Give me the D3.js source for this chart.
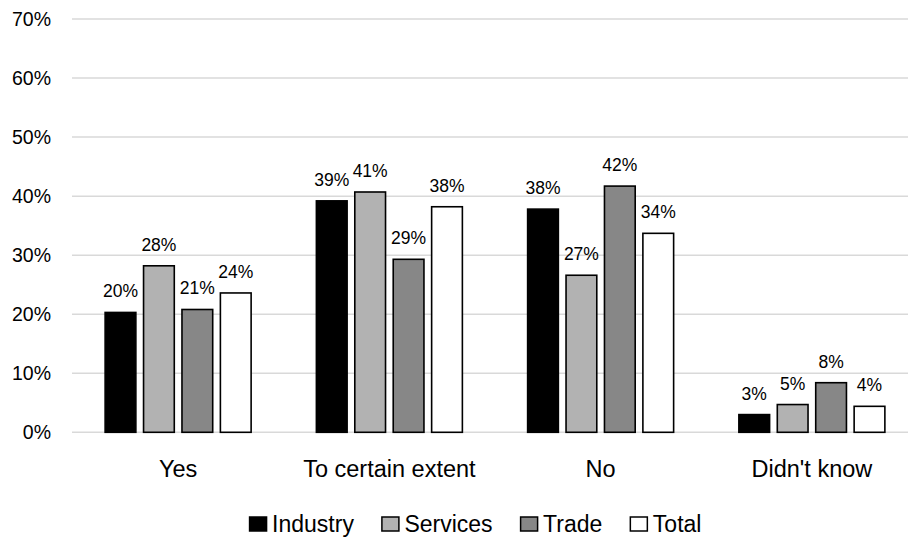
<!DOCTYPE html>
<html>
<head>
<meta charset="utf-8">
<script src="https://cdn.jsdelivr.net/npm/d3@7"></script>
<style>
  html, body { margin: 0; padding: 0; background: #fff; }
  svg { display: block; }
  text { font-family: "Liberation Sans", Arial, sans-serif; fill: #000; }
</style>
</head>
<body>
<svg id="chart" width="908" height="542"></svg>
<script>
const categories = ["Yes", "To certain extent", "No", "Didn't know"];
const seriesNames = ["Industry", "Services", "Trade", "Total"];
const industry = [20.3, 39.2, 37.8, 3.0];
const services = [28.2, 40.7, 26.6, 4.7];
const trade = [20.8, 29.3, 41.7, 8.4];
const total = [23.6, 38.2, 33.7, 4.4];
const seriesColors = ["#000000", "#b2b2b2", "#878787", "#ffffff"];
const tickValues = [0, 10, 20, 30, 40, 50, 60, 70];

const seriesValues = [industry, services, trade, total];

const W = 908, H = 542;
const svg = d3.select("#chart");

const y = d3.scaleLinear().domain([0, 70]).range([432.3, 19]);
const x0 = d3.scaleBand().domain(categories).range([72.5, 917.5]);
const groupW = 146;
const x1 = d3.scaleBand().domain(seriesNames).range([0, groupW]).paddingInner(0.2);
const groupOffset = (x0.bandwidth() - groupW) / 2;

// gridlines
svg.append("g").selectAll("line")
  .data(tickValues).join("line")
  .attr("x1", 72).attr("x2", W)
  .attr("y1", d => y(d)).attr("y2", d => y(d))
  .attr("stroke", "#d9d9d9").attr("stroke-width", 1.5);

// y axis labels
const yAxis = d3.axisLeft(y).tickValues(tickValues).tickFormat(d => d + "%").tickSize(0).tickPadding(0);
const ya = svg.append("g").attr("transform", "translate(51,0)").call(yAxis);
ya.select(".domain").remove();
ya.selectAll("text").style("font-size", "19.5px").style("font-family", '"Liberation Sans", Arial, sans-serif').attr("fill", "#000");

// bars
const groups = svg.append("g").selectAll("g")
  .data(categories).join("g")
  .attr("transform", d => `translate(${x0(d) + groupOffset},0)`);

groups.each(function (cat, ci) {
  const g = d3.select(this);
  const rows = seriesNames.map((s, si) => ({ s, si, v: seriesValues[si][ci] }));
  g.selectAll("rect").data(rows).join("rect")
    .attr("x", d => x1(d.s))
    .attr("width", x1.bandwidth())
    .attr("y", d => y(d.v))
    .attr("height", d => y(0) - y(d.v))
    .attr("fill", d => seriesColors[d.si])
    .attr("stroke", "#000").attr("stroke-width", 1.6);
  g.selectAll("text.lbl").data(rows).join("text")
    .attr("class", "lbl")
    .attr("x", d => x1(d.s) + x1.bandwidth() / 2)
    .attr("y", d => y(d.v) - 15)
    .attr("text-anchor", "middle")
    .style("font-size", "17.5px")
    .text(d => Math.round(d.v) + "%");
});

// x axis category labels
const xAxis = d3.axisBottom(x0).tickSize(0).tickPadding(0);
const xa = svg.append("g").attr("transform", "translate(0,460)").call(xAxis);
xa.select(".domain").remove();
xa.selectAll("text").style("font-size", "23.5px").style("font-family", '"Liberation Sans", Arial, sans-serif').attr("fill", "#000").attr("dy", "0.71em");

// legend
const legend = svg.append("g");
const items = legend.selectAll("g").data(seriesNames).join("g");
items.append("rect")
  .attr("x", 1).attr("width", 17).attr("height", 14)
  .attr("y", 517)
  .attr("fill", (d, i) => seriesColors[i])
  .attr("stroke", "#000").attr("stroke-width", 1.5);
items.append("text")
  .attr("x", 23.5).attr("y", 531.5)
  .style("font-size", "23px")
  .text(d => d);
let widths = [];
items.each(function () {
  const t = d3.select(this).select("text").node().getComputedTextLength();
  widths.push(23.5 + t);
});
const spacing = 27;
const totalW = d3.sum(widths) + spacing * (widths.length - 1);
let cx = 475 - totalW / 2;
items.each(function (d, i) {
  d3.select(this).attr("transform", `translate(${cx},0)`);
  cx += widths[i] + spacing;
});
</script>
</body>
</html>
